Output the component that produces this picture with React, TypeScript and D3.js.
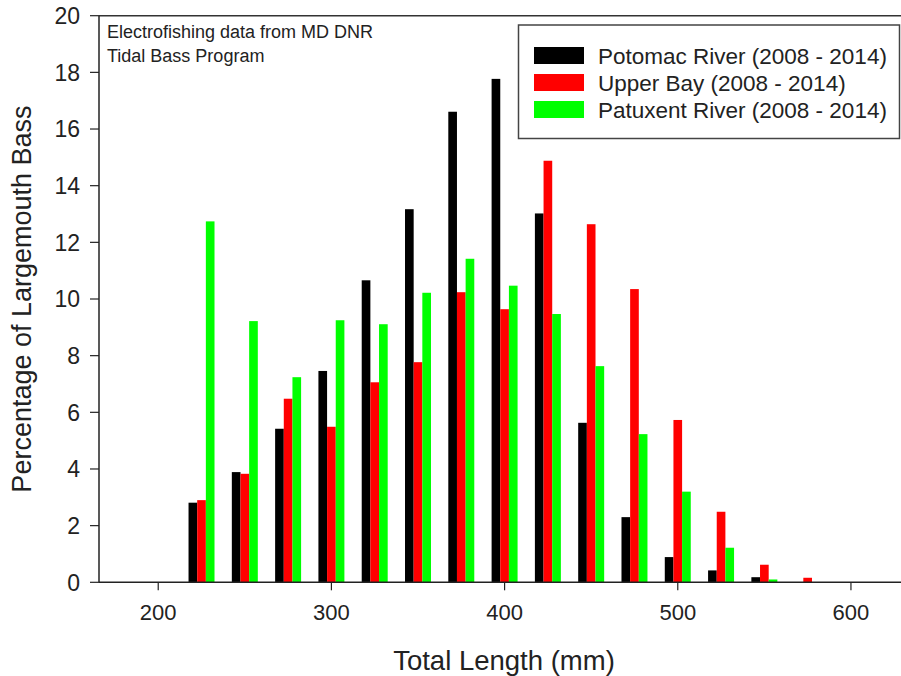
import React from 'react';
import { scaleLinear } from 'd3';

const bins = [225, 250, 275, 300, 325, 350, 375, 400, 425, 450, 475, 500, 525, 550, 575];
const potomac = [2.81, 3.89, 5.42, 7.46, 10.66, 13.17, 16.61, 17.77, 13.02, 5.63, 2.3, 0.89, 0.42, 0.18, 0];
const upperBay = [2.9, 3.83, 6.48, 5.49, 7.06, 7.77, 10.24, 9.64, 14.88, 12.64, 10.35, 5.73, 2.49, 0.62, 0.16];
const patuxent = [12.74, 9.22, 7.24, 9.25, 9.11, 10.22, 11.42, 10.47, 9.47, 7.63, 5.23, 3.2, 1.22, 0.1, 0];

const seriesNames = ['Potomac River (2008 - 2014)', 'Upper Bay (2008 - 2014)', 'Patuxent River (2008 - 2014)'];
const seriesColors = ['#000000', '#ff0000', '#00ff00'];
const xTicks = [200, 300, 400, 500, 600];
const yTicks = [0, 2, 4, 6, 8, 10, 12, 14, 16, 18, 20];

const App = () => {
  const width = 901;
  const height = 676;
  const left = 99;
  const top = 15.7;
  const bottom = 582.3;

  const x = scaleLinear().domain([165.8, 628.9]).range([left, width]);
  const y = scaleLinear().domain([0, 20]).range([bottom, top]);
  const barW = 5; // data units per bar
  const font = 'Liberation Sans, Arial, sans-serif';

  const series = [potomac, upperBay, patuxent];

  return (
    <svg width={width} height={height} style={{ position: 'absolute', left: 0, top: 0 }} fontFamily={font}>
      <rect width={width} height={height} fill="#fff" />
      {series.map((vals, s) =>
        vals.map((v, i) => {
          const x0 = bins[i] + (s - 1.5) * barW;
          return v > 0 ? (
            <rect
              key={`${s}-${i}`}
              x={x(x0)}
              y={y(v)}
              width={x(x0 + barW) - x(x0)}
              height={y(0) - y(v)}
              fill={seriesColors[s]}
            />
          ) : null;
        })
      )}

      {/* frame */}
      <line x1={left} x2={width} y1={top} y2={top} stroke="#333" strokeWidth={1.5} />
      <line x1={left} x2={width} y1={bottom} y2={bottom} stroke="#222" strokeWidth={1.5} />
      <line x1={left} x2={left} y1={top} y2={bottom} stroke="#222" strokeWidth={1.5} />

      {/* y axis */}
      {yTicks.map((t) => (
        <g key={t} transform={`translate(0,${y(t)})`}>
          <line x1={left - 9} x2={left} stroke="#222" strokeWidth={1.2} />
          <text x={80} dy="0.36em" textAnchor="end" fontSize={23} fill="#222">
            {t}
          </text>
        </g>
      ))}

      {/* x axis */}
      {xTicks.map((t) => (
        <g key={t} transform={`translate(${x(t)},0)`}>
          <line y1={bottom} y2={bottom + 8} stroke="#222" strokeWidth={1.2} />
          <text y={620} textAnchor="middle" fontSize={22} fill="#222">
            {t}
          </text>
        </g>
      ))}

      <text x={504} y={670} textAnchor="middle" fontSize={27.5} fill="#222">
        Total Length (mm)
      </text>
      <text transform="translate(31,299) rotate(-90)" textAnchor="middle" fontSize={27} fill="#222">
        Percentage of Largemouth Bass
      </text>

      <text x={107} y={37.5} fontSize={18} fill="#222">
        Electrofishing data from MD DNR
      </text>
      <text x={107} y={62} fontSize={18} fill="#222">
        Tidal Bass Program
      </text>

      {/* legend */}
      <rect x={518.5} y={25} width={381} height={113.5} fill="#fff" stroke="#444" strokeWidth={1.5} />
      {seriesNames.map((n, i) => (
        <g key={n} transform={`translate(0,${47 + i * 27})`}>
          <rect x={534} y={0} width={50} height={17} fill={seriesColors[i]} />
          <text x={598} y={17} fontSize={22.5} fill="#222">
            {n}
          </text>
        </g>
      ))}
    </svg>
  );
};

export default App;
